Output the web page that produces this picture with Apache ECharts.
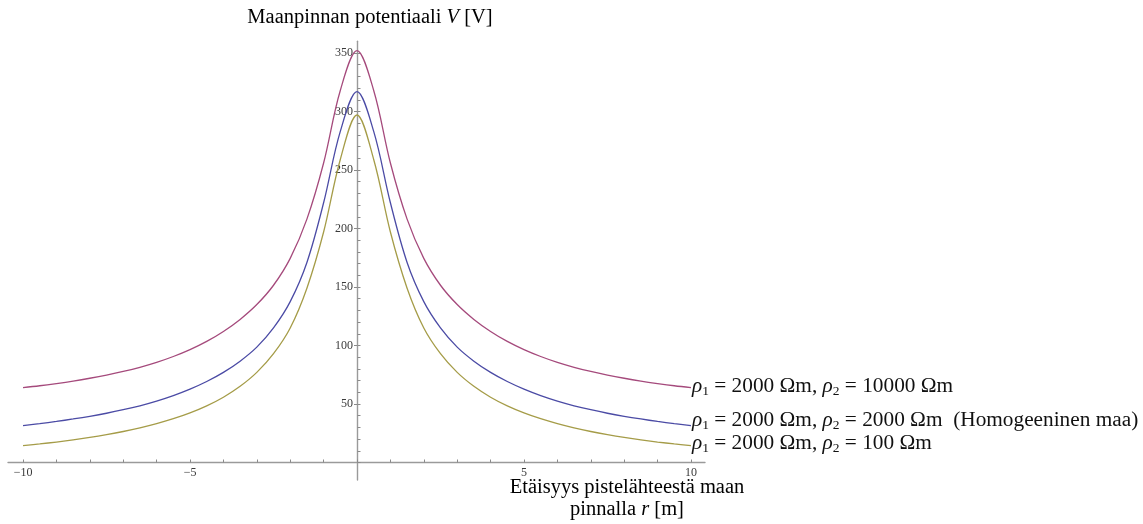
<!DOCTYPE html>
<html>
<head>
<meta charset="utf-8">
<script src="https://cdn.jsdelivr.net/npm/echarts@6/dist/echarts.min.js"></script>
<style>
  html, body { margin: 0; padding: 0; background: #fff; }
  #chart { width: 1143px; height: 524px; }
</style>
</head>
<body>
<div id="chart"></div>
<script>
// Distance from the point source along the ground, r [m]
const distances = [-10, -9.5, -9, -8.5, -8, -7.5, -7, -6.5, -6, -5.5, -5, -4.5, -4, -3.5, -3, -2.5, -2, -1.5, -1, -0.5,
                   0,
                   0.5, 1, 1.5, 2, 2.5, 3, 3.5, 4, 4.5, 5, 5.5, 6, 6.5, 7, 7.5, 8, 8.5, 9, 9.5, 10];

// Ground surface potential V [V] for each layer combination
const vHighLower = [64, 65.6, 67.5, 69.6, 72, 74.7, 77.8, 81.4, 85.6, 90.6, 96.5, 103.5, 112, 122.3, 135, 151.5, 174.5, 208, 256, 318,
                    352,
                    318, 256, 208, 174.5, 151.5, 135, 122.3, 112, 103.5, 96.5, 90.6, 85.6, 81.4, 77.8, 74.7, 72, 69.6, 67.5, 65.6, 64];
const vHomogeneous = [31.5, 33.2, 35.1, 37.2, 39.5, 42.1, 45.1, 48.5, 52.5, 57.2, 62.7, 69.2, 77, 86.6, 98.6, 115, 137.5, 171, 222, 283,
                      317,
                      283, 222, 171, 137.5, 115, 98.6, 86.6, 77, 69.2, 62.7, 57.2, 52.5, 48.5, 45.1, 42.1, 39.5, 37.2, 35.1, 33.2, 31.5];
const vLowLower = [14.5, 15.9, 17.5, 19.3, 21.4, 23.8, 26.5, 29.6, 33.2, 37.4, 42.4, 48.4, 55.8, 65.1, 77, 93, 115, 149, 197, 259,
                   297,
                   259, 197, 149, 115, 93, 77, 65.1, 55.8, 48.4, 42.4, 37.4, 33.2, 29.6, 26.5, 23.8, 21.4, 19.3, 17.5, 15.9, 14.5];

// Tick positions and labels
const xTickValues = [-10, -9, -8, -7, -6, -5, -4, -3, -2, -1, 0, 1, 2, 3, 4, 5, 6, 7, 8, 9, 10];
const xLabelValues = [-10, -5, 5, 10];
const yMajorValues = [50, 100, 150, 200, 250, 300, 350];
const yMinorValues = [0, 10, 20, 30, 40, 50, 60, 70, 80, 90, 100, 110, 120, 130, 140, 150, 160, 170, 180,
                      190, 200, 210, 220, 230, 240, 250, 260, 270, 280, 290, 300, 310, 320, 330, 340, 350];

// Curve labels
const curveLabels = [
  '{i|ρ}{s|1}{t| = 2000 Ωm, }{i|ρ}{s|2}{t| = 10000 Ωm}',
  '{i|ρ}{s|1}{t| = 2000 Ωm, }{i|ρ}{s|2}{t| = 2000 Ωm  (Homogeeninen maa)}',
  '{i|ρ}{s|1}{t| = 2000 Ωm, }{i|ρ}{s|2}{t| = 100 Ωm}'
];

const SERIF = '"Liberation Serif", "Times New Roman", serif';
const AXIS_GRAY = '#9a9a9a';
const TICK_GRAY = '#8a8a8a';
const TICK_TEXT = '#3a3a3a';
const BIG = 20.5;
const LABEL_SIZE = 21.3;

// Plot extent (horizontal) and the vertical range shown by the y axis line
const X_MIN = -10.45, X_MAX = 10.42;
const Y_MIN_AXIS = -15, Y_MAX = 360;

const labelRich = {
  t: { fontFamily: SERIF, fontSize: LABEL_SIZE, color: '#111' },
  i: { fontFamily: SERIF, fontSize: LABEL_SIZE, fontStyle: 'italic', color: '#111' },
  s: { fontFamily: SERIF, fontSize: 13.5, color: '#111', padding: [9, 0, 0, 0] }
};

function pairs(values) {
  return distances.map((r, i) => [r, values[i]]);
}

function curve(name, values, color, labelIdx, dy) {
  return {
    name: name,
    type: 'line',
    data: pairs(values),
    xAxisIndex: 0,
    yAxisIndex: 0,
    smooth: 0.35,
    showSymbol: false,
    symbol: 'none',
    lineStyle: { color: color, width: 1.3 },
    itemStyle: { color: color },
    z: 3,
    endLabel: {
      show: true,
      formatter: () => curveLabels[labelIdx],
      rich: labelRich,
      distance: 1,
      offset: [0, dy],
      align: 'left',
      verticalAlign: 'middle'
    }
  };
}

// Layout: main plotting area; the x axis sits on its bottom edge (V = 0)
const PLOT = { left: 8, right: 438, top: 41.3, bottom: 61.5 };
const plotWidth = 1143 - PLOT.left - PLOT.right;
// pixel column of r = 0, where the vertical axis is drawn
const zeroX = PLOT.left + (0 - X_MIN) / (X_MAX - X_MIN) * plotWidth;
const plotHeight = 524 - PLOT.top - PLOT.bottom;
const axisBottom = 524 - (PLOT.top + (Y_MAX - Y_MIN_AXIS) / Y_MAX * plotHeight);

const chart = echarts.init(document.getElementById('chart'), null, { renderer: 'canvas' });

chart.setOption({
  backgroundColor: '#ffffff',
  animation: false,
  grid: [
    { left: PLOT.left, right: PLOT.right, top: PLOT.top, bottom: PLOT.bottom, outerBoundsMode: 'none' },
    { left: zeroX, width: 0.5, top: PLOT.top, bottom: axisBottom, outerBoundsMode: 'none' }
  ],
  xAxis: [
    {
      gridIndex: 0,
      type: 'value',
      min: X_MIN,
      max: X_MAX,
      position: 'bottom',
      axisLine: { onZero: false, lineStyle: { color: AXIS_GRAY, width: 1.4 } },
      axisTick: {
        show: true,
        inside: true,
        length: 3,
        customValues: xTickValues,
        lineStyle: { color: TICK_GRAY, width: 1 }
      },
      axisLabel: {
        customValues: xLabelValues,
        formatter: v => (v < 0 ? '\u2212' + Math.abs(v) : String(v)),
        fontFamily: SERIF,
        fontSize: 12,
        color: TICK_TEXT,
        margin: 4
      },
      splitLine: { show: false }
    },
    {
      gridIndex: 1,
      type: 'value',
      min: -1,
      max: 1,
      show: false
    }
  ],
  yAxis: [
    {
      gridIndex: 0,
      type: 'value',
      min: 0,
      max: Y_MAX,
      show: false
    },
    {
      gridIndex: 1,
      type: 'value',
      min: Y_MIN_AXIS,
      max: Y_MAX,
      position: 'left',
      axisLine: { show: true, onZero: false, lineStyle: { color: AXIS_GRAY, width: 1.4 } },
      axisTick: {
        show: true,
        inside: false,
        length: 3,
        customValues: yMajorValues,
        lineStyle: { color: TICK_GRAY, width: 1 }
      },
      axisLabel: {
        customValues: yMajorValues,
        fontFamily: SERIF,
        fontSize: 12,
        color: TICK_TEXT,
        margin: 4
      },
      splitLine: { show: false }
    },
    {
      gridIndex: 1,
      type: 'value',
      min: Y_MIN_AXIS,
      max: Y_MAX,
      position: 'right',
      axisLine: { show: false, onZero: false },
      axisTick: {
        show: true,
        inside: false,
        length: 3,
        customValues: yMinorValues,
        lineStyle: { color: TICK_GRAY, width: 1 }
      },
      axisLabel: { show: false },
      splitLine: { show: false }
    }
  ],
  series: [
    curve('Homogeeninen maa', vHomogeneous, '#4b4ba5', 1, -5),
    curve('ρ2 = 10000 Ωm', vHighLower, '#a54a7c', 0, -1),
    curve('ρ2 = 100 Ωm', vLowLower, '#a59c48', 2, -2)
  ],
  graphic: [
    {
      type: 'text',
      x: 370,
      y: 7,
      style: {
        text: '{t|Maanpinnan potentiaali }{i|V}{t| [V]}',
        rich: {
          t: { fontFamily: SERIF, fontSize: BIG, color: '#111' },
          i: { fontFamily: SERIF, fontSize: BIG, fontStyle: 'italic', color: '#111' }
        },
        align: 'center',
        verticalAlign: 'top'
      }
    },
    {
      type: 'text',
      x: 627,
      y: 477,
      style: {
        text: '{t|Etäisyys pistelähteestä maan}\n{t|pinnalla }{i|r}{t| [m]}',
        rich: {
          t: { fontFamily: SERIF, fontSize: BIG, color: '#111', lineHeight: 22 },
          i: { fontFamily: SERIF, fontSize: BIG, fontStyle: 'italic', color: '#111', lineHeight: 22 }
        },
        align: 'center',
        verticalAlign: 'top'
      }
    }
  ]
});
</script>
</body>
</html>
